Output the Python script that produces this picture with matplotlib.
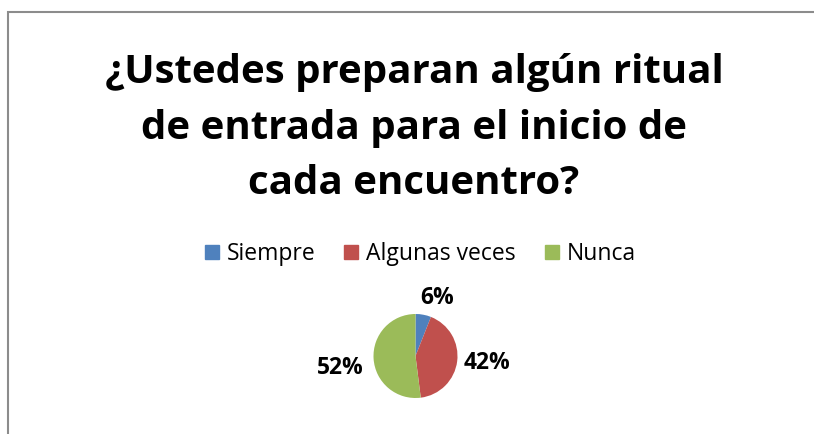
import matplotlib
matplotlib.use("Agg")
import matplotlib.pyplot as plt
from matplotlib.patches import Rectangle

TITLE = "¿Ustedes preparan algún ritual\nde entrada para el inicio de\ncada encuentro?"
LABELS = ["Siempre", "Algunas veces", "Nunca"]
VALUES = [6, 42, 52]
COLORS = ["#4F81BD", "#C0504D", "#9BBB59"]

W, H = 814, 434
fig = plt.figure(figsize=(W / 100, H / 100), dpi=100)
plt.rcParams["font.family"] = ["Open Sans", "DejaVu Sans"]

def fx(px): return px / W
def fy(py): return 1 - py / H

# chart border (only left and top edges are visible in the crop)
fig.patches.append(Rectangle((fx(8), -0.1), 1.2, (H - 12) / H + 0.1,
                             transform=fig.transFigure, fill=False,
                             edgecolor="#8c8c8c", lw=1.5))

fig.text(fx(414), fy(128), TITLE, ha="center", va="center",
         fontsize=29, fontweight="bold", linespacing=1.55, color="black")

# pie: centre (415.5, 356) px, radius 42 px
r = 42
ax = fig.add_axes([fx(415.5 - r), fy(356 + r), 2 * r / W, 2 * r / H])
wedges, texts = ax.pie(VALUES, colors=COLORS, startangle=90, counterclock=False,
                       wedgeprops=dict(edgecolor="none"))
ax.set_xlim(-1, 1); ax.set_ylim(-1, 1)
ax.set_aspect("equal")

label_pos = [(437, 298), (487, 363), (340, 368)]
for v, (px, py) in zip(VALUES, label_pos):
    fig.text(fx(px), fy(py), f"{v}%", ha="center", va="center",
             fontsize=16.5, fontweight="bold")

# legend drawn by hand so all entries share one baseline
legend_x = [205, 344, 545]
for lab, c, x0 in zip(LABELS, COLORS, legend_x):
    fig.patches.append(Rectangle((fx(x0), fy(259)), 14 / W, 14 / H,
                                 transform=fig.transFigure, color=c))
    fig.text(fx(x0 + 22), fy(260), lab, ha="left", va="baseline", fontsize=16.5)

fig.savefig("out.png", dpi=100)
